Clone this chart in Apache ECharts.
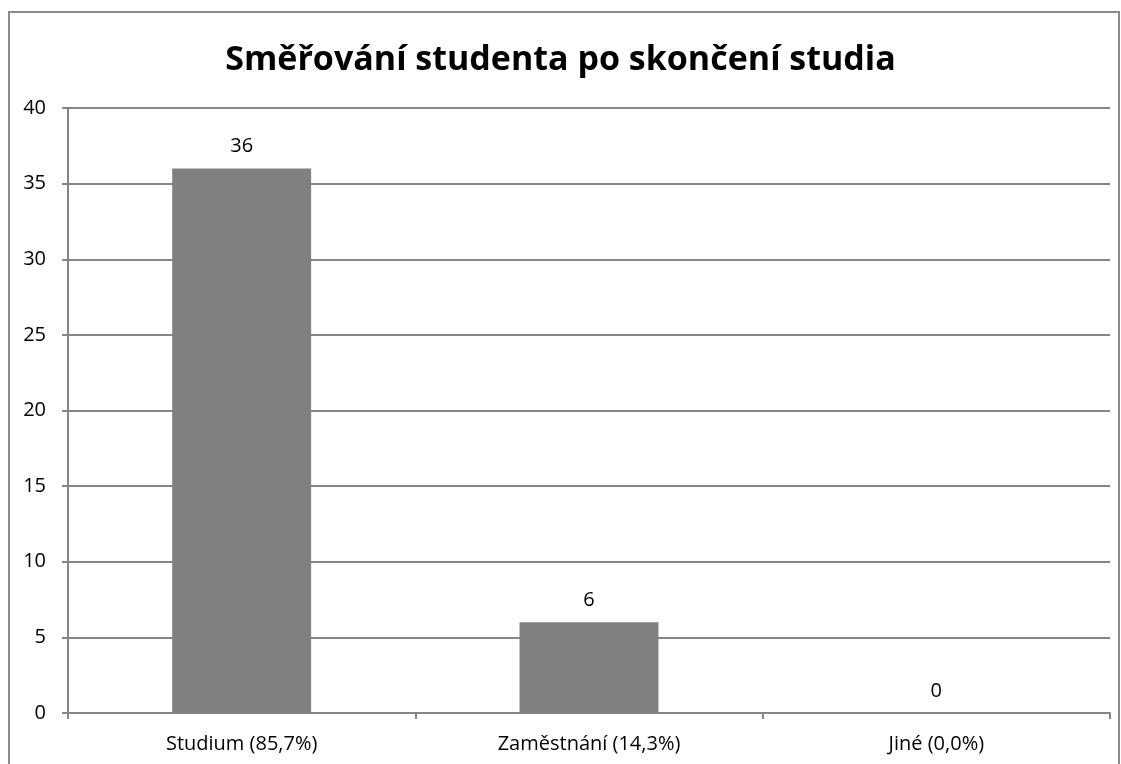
<!DOCTYPE html>
<html>
<head>
<meta charset="utf-8">
<script src="https://cdn.jsdelivr.net/npm/echarts@6/dist/echarts.min.js"></script>
<style>
html, body { margin: 0; padding: 0; background: #fff; }
#chart { width: 1121px; height: 764px; }
</style>
</head>
<body>
<div id="chart"></div>
<script>
var categories = ['Studium (85,7%)', 'Zaměstnání (14,3%)', 'Jiné (0,0%)'];
var values = [36, 6, 0];
var titleText = 'Směřování studenta po skončení studia';

var chart = echarts.init(document.getElementById('chart'));
chart.setOption({
    animation: false,
    title: {
        text: titleText,
        left: 'center',
        top: 38,
        textStyle: {
            fontFamily: "'Open Sans', sans-serif",
            fontWeight: 'bold',
            fontSize: 34,
            color: '#000'
        }
    },
    graphic: [{
        type: 'rect',
        shape: { x: 9, y: 12, width: 1110, height: 760 },
        style: { fill: 'none', stroke: '#8a8a8a', lineWidth: 2 },
        silent: true
    }],
    grid: { left: 68, right: 11, top: 108, bottom: 51 },
    xAxis: {
        type: 'category',
        data: categories,
        axisLine: { lineStyle: { color: '#868686', width: 2 } },
        axisTick: { show: true, length: 6, lineStyle: { color: '#868686', width: 2 } },
        axisLabel: {
            fontFamily: "'Open Sans', sans-serif",
            fontSize: 20,
            color: '#000',
            margin: 21
        }
    },
    yAxis: {
        type: 'value',
        min: 0,
        max: 40,
        interval: 5,
        axisLine: { show: true, lineStyle: { color: '#868686', width: 2 } },
        axisTick: { show: true, length: 6, lineStyle: { color: '#868686', width: 2 } },
        splitLine: { lineStyle: { color: '#868686', width: 2 } },
        axisLabel: {
            fontFamily: "'Open Sans', sans-serif",
            fontSize: 20,
            color: '#000',
            margin: 22
        }
    },
    series: [{
        type: 'bar',
        data: values,
        barCategoryGap: '60%',
        itemStyle: { color: '#808080' },
        label: {
            show: true,
            position: 'top',
            distance: 12,
            fontFamily: "'Open Sans', sans-serif",
            fontSize: 20,
            color: '#000'
        }
    }]
});
</script>
</body>
</html>
